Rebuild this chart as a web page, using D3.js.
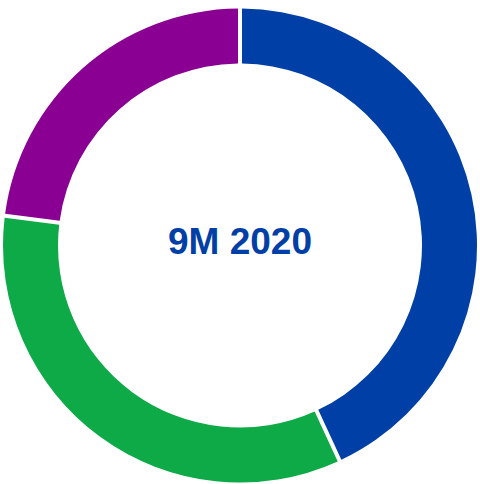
<!DOCTYPE html>
<html>
<head>
<meta charset="utf-8">
<script src="https://cdn.jsdelivr.net/npm/d3@7"></script>
<style>
  body { margin: 0; background: #fff; }
</style>
</head>
<body>
<div id="chart"></div>
<script>
var segments = ["A", "B", "C"];
var values = [43.1, 33.9, 23.0];
var colors = ["#0040a6", "#0daa47", "#8a0092"];
var centerLabel = "9M 2020";

function init(){
  var w = 480, h = 484;
  var cx = 240, cy = 245.5;
  var outerR = 237, innerR = 182;

  var svg = d3.select("#chart")
    .append("svg")
      .attr("width", w)
      .attr("height", h)
    .append("g")
      .attr("transform", "translate(" + cx + "," + cy + ")");

  var pie = d3.pie().sort(null).value(function(d){ return d; });

  // gap of about 4px between slices
  var arc = d3.arc()
    .innerRadius(innerR)
    .outerRadius(outerR)
    .padRadius(outerR)
    .padAngle(4 / outerR);

  svg.selectAll("path")
    .data(pie(values))
    .enter().append("path")
      .attr("d", arc)
      .attr("fill", function(d, i){ return colors[i]; });

  svg.append("text")
    .attr("x", 0)
    .attr("y", -4)
    .attr("text-anchor", "middle")
    .attr("dominant-baseline", "central")
    .style("font-family", "'Liberation Sans', Arial, sans-serif")
    .style("font-weight", "bold")
    .style("font-size", "37px")
    .style("fill", "#0040a6")
    .text(centerLabel);
}
window.onload = init;
</script>
</body>
</html>
